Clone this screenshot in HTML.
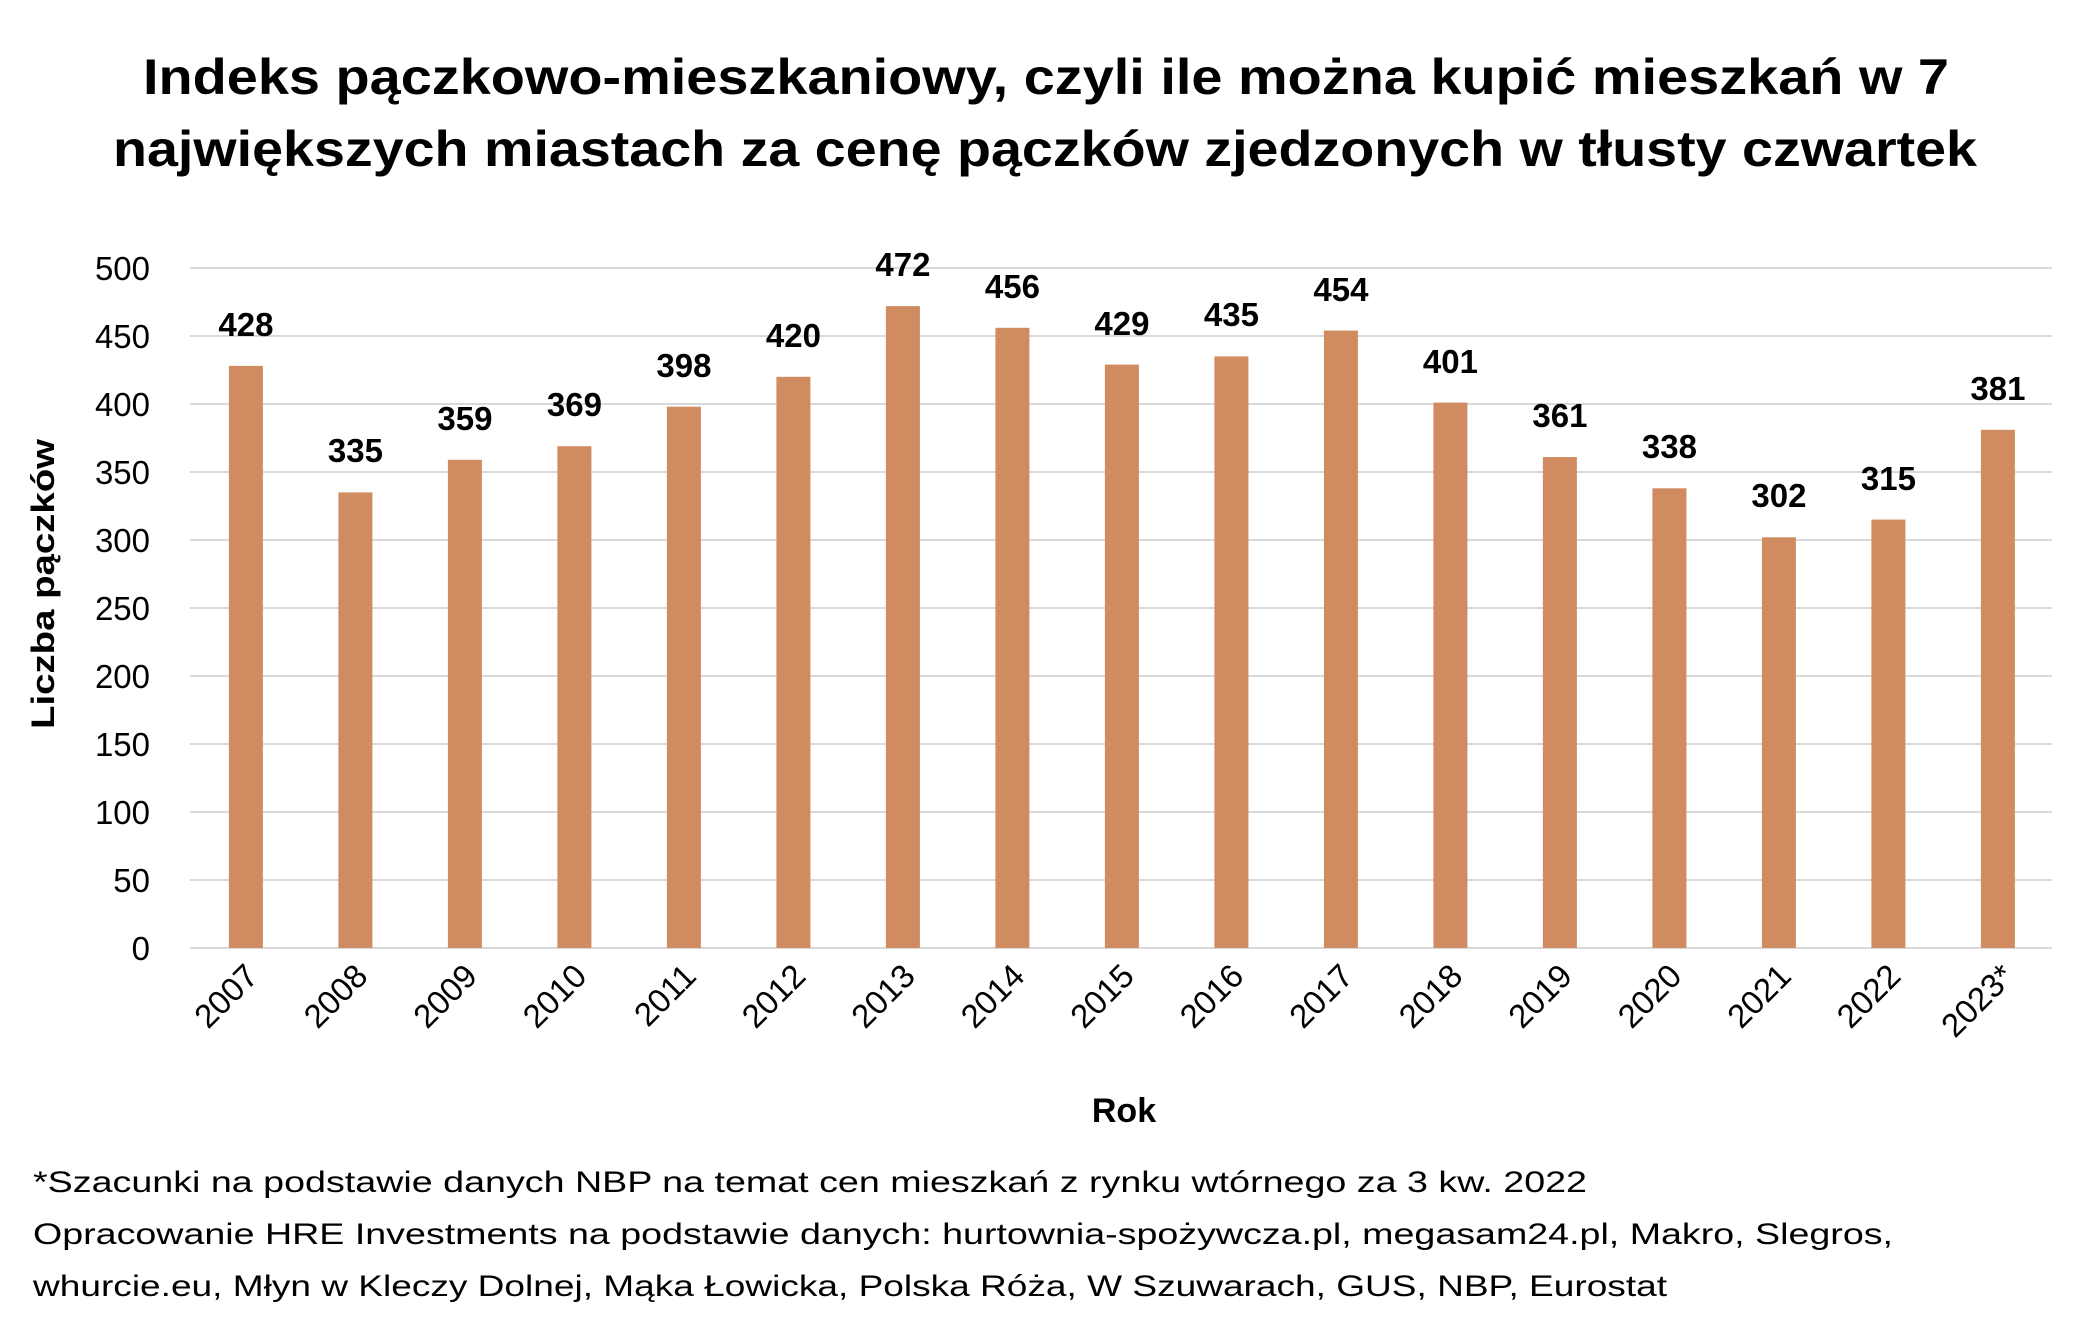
<!DOCTYPE html>
<html><head><meta charset="utf-8"><style>html,body{margin:0;padding:0;background:#fff}svg{display:block}</style></head>
<body>
<svg width="2079" height="1320" viewBox="0 0 2079 1320" xmlns="http://www.w3.org/2000/svg" font-family="Liberation Sans, DejaVu Sans, sans-serif">
<rect width="2079" height="1320" fill="#fff"/>
<text x="1046" y="94" font-size="50" font-weight="bold" text-anchor="middle" textLength="1806" lengthAdjust="spacingAndGlyphs">Indeks pączkowo-mieszkaniowy, czyli ile można kupić mieszkań w 7</text>
<text x="1045" y="166" font-size="50" font-weight="bold" text-anchor="middle" textLength="1864" lengthAdjust="spacingAndGlyphs">największych miastach za cenę pączków zjedzonych w tłusty czwartek</text>
<g stroke="#d9d9d9" stroke-width="2">
<line x1="190" x2="2052" y1="268" y2="268"/><line x1="190" x2="2052" y1="336" y2="336"/><line x1="190" x2="2052" y1="404" y2="404"/><line x1="190" x2="2052" y1="472" y2="472"/><line x1="190" x2="2052" y1="540" y2="540"/><line x1="190" x2="2052" y1="608" y2="608"/><line x1="190" x2="2052" y1="676" y2="676"/><line x1="190" x2="2052" y1="744" y2="744"/><line x1="190" x2="2052" y1="812" y2="812"/><line x1="190" x2="2052" y1="880" y2="880"/><line x1="190" x2="2052" y1="948" y2="948"/>
</g>
<g font-size="33" text-anchor="end" fill="#000">
<text x="150" y="280">500</text><text x="150" y="348">450</text><text x="150" y="416">400</text><text x="150" y="484">350</text><text x="150" y="552">300</text><text x="150" y="620">250</text><text x="150" y="688">200</text><text x="150" y="756">150</text><text x="150" y="824">100</text><text x="150" y="892">50</text><text x="150" y="960">0</text>
</g>
<text transform="translate(54,584) rotate(-90)" font-size="32" font-weight="bold" text-anchor="middle" textLength="290" lengthAdjust="spacingAndGlyphs">Liczba pączków</text>
<text x="1124" y="1122" font-size="34" font-weight="bold" text-anchor="middle">Rok</text>
<g font-size="30">
<text x="33" y="1192" textLength="1554" lengthAdjust="spacingAndGlyphs">*Szacunki na podstawie danych NBP na temat cen mieszkań z rynku wtórnego za 3 kw. 2022</text>
<text x="33" y="1244" textLength="1860" lengthAdjust="spacingAndGlyphs">Opracowanie HRE Investments na podstawie danych: hurtownia-spożywcza.pl, megasam24.pl, Makro, Slegros,</text>
<text x="33" y="1296" textLength="1634" lengthAdjust="spacingAndGlyphs">whurcie.eu, Młyn w Kleczy Dolnej, Mąka Łowicka, Polska Róża, W Szuwarach, GUS, NBP, Eurostat</text>
</g>
<g fill="#d08c60">
<rect x="228.9" y="365.9" width="34" height="582.1"/>
<rect x="338.4" y="492.4" width="34" height="455.6"/>
<rect x="447.9" y="459.8" width="34" height="488.2"/>
<rect x="557.4" y="446.2" width="34" height="501.8"/>
<rect x="666.9" y="406.7" width="34" height="541.3"/>
<rect x="776.4" y="376.8" width="34" height="571.2"/>
<rect x="885.9" y="306.1" width="34" height="641.9"/>
<rect x="995.4" y="327.8" width="34" height="620.2"/>
<rect x="1104.9" y="364.6" width="34" height="583.4"/>
<rect x="1214.4" y="356.4" width="34" height="591.6"/>
<rect x="1323.9" y="330.6" width="34" height="617.4"/>
<rect x="1433.4" y="402.6" width="34" height="545.4"/>
<rect x="1542.9" y="457" width="34" height="491"/>
<rect x="1652.4" y="488.3" width="34" height="459.7"/>
<rect x="1761.9" y="537.3" width="34" height="410.7"/>
<rect x="1871.4" y="519.6" width="34" height="428.4"/>
<rect x="1980.9" y="429.8" width="34" height="518.2"/>
</g>
<g font-size="33" font-weight="bold" text-anchor="middle">
<text x="245.9" y="336">428</text><text x="355.4" y="462">335</text><text x="464.9" y="430">359</text><text x="574.4" y="416">369</text><text x="683.9" y="377">398</text><text x="793.4" y="347">420</text><text x="902.9" y="276">472</text><text x="1012.4" y="298">456</text><text x="1121.9" y="335">429</text><text x="1231.4" y="326">435</text><text x="1340.9" y="301">454</text><text x="1450.4" y="373">401</text><text x="1559.9" y="427">361</text><text x="1669.4" y="458">338</text><text x="1778.9" y="507">302</text><text x="1888.4" y="490">315</text><text x="1997.9" y="400">381</text>
</g>
<g font-size="33" text-anchor="end">
<text transform="translate(260,978) rotate(-45)">2007</text>
<text transform="translate(369.5,978) rotate(-45)">2008</text>
<text transform="translate(479,978) rotate(-45)">2009</text>
<text transform="translate(588.5,978) rotate(-45)">2010</text>
<text transform="translate(698,978) rotate(-45)">2011</text>
<text transform="translate(807.5,978) rotate(-45)">2012</text>
<text transform="translate(917,978) rotate(-45)">2013</text>
<text transform="translate(1026.5,978) rotate(-45)">2014</text>
<text transform="translate(1136,978) rotate(-45)">2015</text>
<text transform="translate(1245.5,978) rotate(-45)">2016</text>
<text transform="translate(1355,978) rotate(-45)">2017</text>
<text transform="translate(1464.5,978) rotate(-45)">2018</text>
<text transform="translate(1574,978) rotate(-45)">2019</text>
<text transform="translate(1683.5,978) rotate(-45)">2020</text>
<text transform="translate(1793,978) rotate(-45)">2021</text>
<text transform="translate(1902.5,978) rotate(-45)">2022</text>
<text transform="translate(2016,978) rotate(-45)">2023*</text>
</g>
</svg>
</body></html>
